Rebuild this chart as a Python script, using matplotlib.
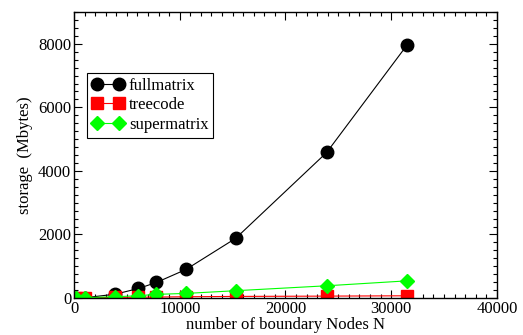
import matplotlib
matplotlib.use("Agg")
import matplotlib.pyplot as plt
from matplotlib.ticker import MultipleLocator

# values
nodes = [200, 1000, 3900, 6100, 7800, 10600, 15300, 23900, 31500]
fullmatrix = [0, 8, 120, 300, 490, 900, 1880, 4580, 7960]
treecode = [2, 8, 20, 25, 30, 40, 50, 60, 70]
supermatrix = [2, 10, 40, 72, 115, 145, 230, 385, 540]

plt.rcParams['font.family'] = ['Liberation Serif', 'DejaVu Serif']
plt.rcParams['font.size'] = 12

fig = plt.figure(figsize=(5.23, 3.35), dpi=100)
ax = fig.add_axes([0.1415, 0.1104, 0.8085, 0.8536])

ax.plot(nodes, fullmatrix, color='black', lw=0.8, marker='o', ms=9,
        mec='black', mfc='black', label='fullmatrix')
ax.plot(nodes, treecode, color='red', lw=0.8, marker='s', ms=8.5,
        mec='red', mfc='red', label='treecode')
ax.plot(nodes, supermatrix, color='#00ff00', lw=0.8, marker='D', ms=7,
        mec='#00ff00', mfc='#00ff00', label='supermatrix')

ax.set_xlim(0, 40000)
ax.set_ylim(0, 9000)
ax.xaxis.set_major_locator(MultipleLocator(10000))
ax.xaxis.set_minor_locator(MultipleLocator(1000))
ax.yaxis.set_major_locator(MultipleLocator(2000))
ax.yaxis.set_minor_locator(MultipleLocator(250))
ax.tick_params(which='both', direction='in', top=True, right=True, width=0.8)
ax.tick_params(which='major', length=6, pad=2)
ax.tick_params(which='minor', length=3)
for s in ax.spines.values():
    s.set_linewidth(1.0)

ax.set_xlabel('number of boundary Nodes N', labelpad=0)
ax.set_ylabel('storage  (Mbytes)', labelpad=4)

leg = ax.legend(loc='upper left', bbox_to_anchor=(0.031, 0.787), numpoints=2,
                handlelength=1.9, handletextpad=0.3, labelspacing=0.2,
                borderpad=0.3, borderaxespad=0, fancybox=False, framealpha=1)
leg.get_frame().set_edgecolor('black')
leg.get_frame().set_linewidth(0.8)

plt.savefig('out.png', dpi=100)
